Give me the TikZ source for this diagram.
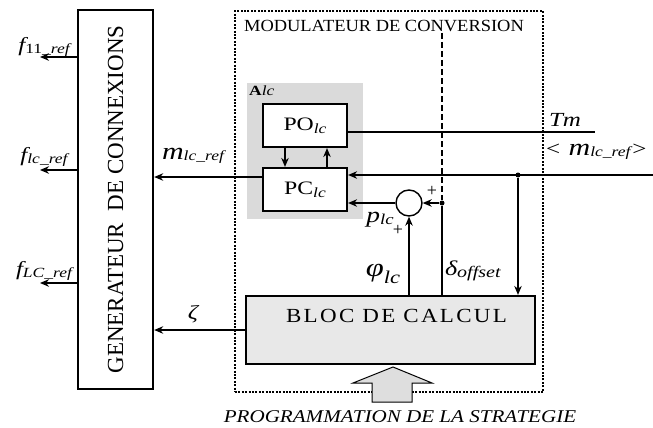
\documentclass[tikz,border=0pt]{standalone}
\usepackage{fontspec}
\setmainfont{Liberation Serif}
\usetikzlibrary{arrows.meta,positioning}

\definecolor{blocgray}{RGB}{232,232,232}
\definecolor{algray}{RGB}{218,218,218}
\definecolor{proggray}{RGB}{222,222,222}

% text drawn a little wider than the font
\newcommand{\wide}[1]{\scalebox{1.25}[1]{#1}}
% signal name with a lowered index
\newcommand{\sig}[4]{\wide{{\fontsize{#1}{#1}\selectfont\itshape #2}\raisebox{-0.3ex}{\fontsize{#3}{#3}\selectfont #4}}}

\tikzset{
  genbox/.style={draw,line width=2.4pt,minimum width=75pt,minimum height=379pt,inner sep=0pt},
  cellbox/.style={draw,line width=2.2pt,fill=white,minimum width=84pt,minimum height=43pt,
    inner sep=0pt,font=\fontsize{19}{19}\selectfont},
  calcbox/.style={draw,line width=2.2pt,fill=blocgray,minimum width=289pt,minimum height=68pt,inner sep=0pt},
  modbox/.style={draw,line width=2.4pt,dash pattern=on 2pt off 1.4pt,minimum width=308pt,minimum height=381pt,inner sep=0pt},
  sumnode/.style={draw,circle,line width=1.4pt,minimum size=26pt,inner sep=0pt},
  dotnode/.style={circle,fill,inner sep=0pt,minimum size=5pt},
  flow/.style={-{Stealth[length=9pt,width=7.5pt]},line width=1.2pt},
  wire/.style={line width=1.2pt},
  lab/.style={inner sep=0pt}
}

\begin{document}
\begin{tikzpicture}[x=1pt,y=-1pt]
  \useasboundingbox (0,0) rectangle (653,428);

  % blocks
  \node[genbox] (gen) at (115.5,199.5) {};
  \node[rotate=90,font=\fontsize{23}{23}\selectfont] at (gen.center) {GENERATEUR\ \ DE CONNEXIONS};
  \node[modbox] (modul) at (389,201.5) {};
  \node[lab] (title) at (384,26)
    {\scalebox{1.085}[1]{\fontsize{17}{17}\selectfont MODULATEUR DE CONVERSION}};
  \node[fill=algray,minimum width=116pt,minimum height=136pt,inner sep=0pt] (alc) at (305,151) {};
  \node[lab,anchor=north west] at (249,86) {\wide{\fontsize{14}{14}\selectfont\textbf{A}\textit{lc}}};
  \node[cellbox] (po) at (305,125.5) {\wide{PO\raisebox{-0.3ex}{\fontsize{14}{14}\selectfont\itshape lc}}};
  \node[cellbox] (pc) at (305,189.5) {\wide{PC\raisebox{-0.3ex}{\fontsize{14}{14}\selectfont\itshape lc}}};
  \node[calcbox] (bloc) at (390.5,330) {};
  \node[lab] at (396.5,316)
    {\scalebox{1.15}[1]{\fontsize{20}{20}\selectfont\addfontfeature{LetterSpace=10}BLOC\ DE\ CALCUL}};
  \node[sumnode] (sum) at (409,203) {};
  \node[dotnode] (dotm) at (518,175) {};
  \node[dotnode] (dotd) at (442,203) {};

  % free ends
  \coordinate (o1) at (40,57);
  \coordinate (o2) at (40,170);
  \coordinate (o3) at (40,283);
  \coordinate (rin) at (653,175);
  \coordinate (tm) at (595,132);
  \coordinate (dtop) at (442,33);
  \coordinate (mref) at ([yshift=12.5pt]pc.west);

  % connectors
  \draw[flow] (gen.west |- o1) -- (o1);
  \draw[flow] (gen.west |- o2) -- (o2);
  \draw[flow] (gen.west |- o3) -- (o3);
  \draw[flow] (mref) -- (gen.east |- mref);
  \draw[flow] (bloc.west) -- (gen.east |- bloc.west);
  \draw[flow] (rin) -- (pc.east |- rin);
  \draw[flow] (dotm) -- (dotm |- bloc.north);
  \draw[wire] (po.east |- tm) -- (tm);
  \draw[flow] (sum.west) -- (pc.east |- sum.west);
  \draw[flow] (dotd) -- (sum.east);
  \draw[wire,dashed,dash pattern=on 6pt off 3pt] (dtop) -- (dotd);
  \draw[wire] (dotd) -- (dotd |- bloc.north);
  \draw[flow] (sum.south |- bloc.north) -- (sum.south);
  \draw[flow] ([xshift=-20pt]po.south) -- ([xshift=-20pt]pc.north);
  \draw[flow] ([xshift=22pt]pc.north) -- ([xshift=22pt]po.south);

  % strategy input
  \draw[line width=1pt,fill=proggray] (393,367) -- (432,383) -- (412,383) -- (412,402)
    -- (372,402) -- (372,383) -- (353,383) -- cycle;

  % labels
  \node[lab] at (45,47) {\sig{20}{f}{14}{11\_\textit{ref}}};
  \node[lab] at (45,157) {\sig{20}{f}{14}{\textit{lc\_ref}}};
  \node[lab] at (45,271) {\sig{20}{f}{14}{\textit{LC\_ref}}};
  \node[lab] at (194,156) {\sig{24}{m}{14}{\textit{lc\_ref}}};
  \node[lab] at (193,314) {\wide{\fontsize{20}{20}\selectfont\itshape ζ}};
  \node[lab] at (565,120) {\wide{\fontsize{20}{20}\selectfont\itshape Tm}};
  \node[lab,anchor=west] at (546,152) {\wide{\fontsize{20}{20}\selectfont <\,\,}\sig{24}{m}{14}{\textit{lc\_ref}}\wide{\fontsize{20}{20}\selectfont >}};
  \node[lab] at (380,220) {\sig{22}{p}{15}{\textit{lc}}};
  \node[lab] at (398,230) {\fontsize{18}{18}\selectfont +};
  \node[lab] at (432,191) {\fontsize{18}{18}\selectfont +};
  \node[lab] at (383,274) {\wide{{\fontsize{26}{26}\selectfont\itshape φ}\raisebox{-1.5ex}{\fontsize{18}{18}\selectfont\itshape lc}}};
  \node[lab] at (473,271) {\sig{21}{δ}{16}{\textit{offset}}};
  \node[lab] at (400,417)
    {\scalebox{1.17}[1]{\fontsize{18}{18}\selectfont\itshape PROGRAMMATION DE LA STRATEGIE}};
\end{tikzpicture}
\end{document}
